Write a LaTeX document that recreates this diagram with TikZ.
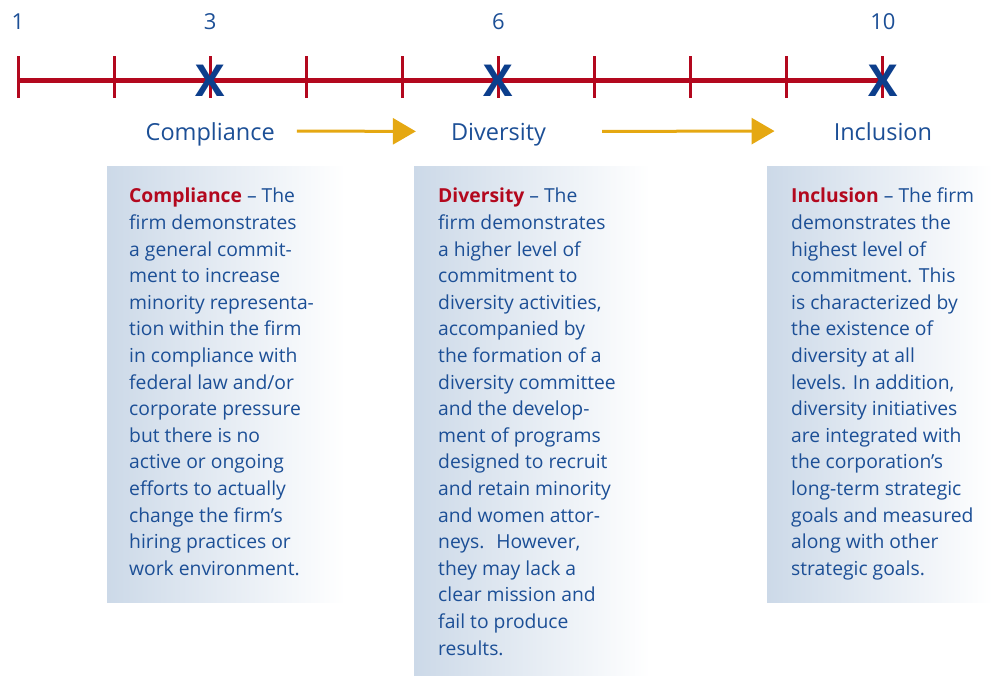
\documentclass[tikz,border=0pt]{standalone}
\usepackage{fontspec}
\setmainfont{Open Sans}
\usepackage{xcolor}
\usetikzlibrary{arrows.meta,positioning}
\definecolor{scale-red}{RGB}{179, 8, 30}
\definecolor{label-blue}{RGB}{28, 79, 150}
\definecolor{mark-blue}{RGB}{12, 62, 140}
\definecolor{arrow-gold}{RGB}{229, 168, 18}
\definecolor{box-blue}{RGB}{204, 217, 232}

\begin{document}
\begin{tikzpicture}[
    x=1pt, y=-1pt,
    scaleline/.style={draw=scale-red, line width=5pt},
    tick/.style={draw=scale-red, line width=3pt},
    num/.style={anchor=base, inner sep=0pt, text=label-blue, font=\fontsize{22}{22}\selectfont},
    xmark/.style={anchor=south, inner sep=0pt, text=mark-blue, font=\fontsize{44}{44}\selectfont\bfseries},
    stage/.style={anchor=base, inner sep=0pt, text depth=0pt, text=label-blue, font=\fontsize{23.5}{24}\selectfont},
    flow/.style={draw=arrow-gold, line width=3pt, -{Triangle[length=23pt,width=26pt]}},
    descbox/.style={anchor=north west, inner sep=0pt, left color=box-blue, right color=white},
    desc/.style={anchor=north west, inner sep=0pt, align=left, text=label-blue, font=\fontsize{19.3}{26.6}\selectfont}
]
\useasboundingbox (0,0) rectangle (992,675);

\foreach \i in {1,...,10}
    \coordinate (t\i) at ({18+(\i-1)*96.1},80);
\draw[scaleline] (t1) -- (t10);
\foreach \i in {1,...,10}
    \draw[tick] (t\i) ++(0,-24) -- ++(0,42);

\node[num] (n1) at ([yshift=51pt]t1) {1};
\node[num] (n3) at ([yshift=51pt]t3) {3};
\node[num] (n6) at ([yshift=51pt]t6) {6};
\node[num] (n10) at ([yshift=51pt]t10) {10};

\node[xmark] (x3) at ([yshift=-17pt]t3) {X};
\node[xmark] (x6) at ([yshift=-17pt]t6) {X};
\node[xmark] (x10) at ([yshift=-17pt]t10) {X};

\node[stage] (comp) at ([yshift=-60pt]t3) {Compliance};
\node[stage] (div) at ([yshift=-60pt]t6) {Diversity};
\node[stage] (incl) at ([yshift=-60pt]t10) {Inclusion};

\draw[flow] ([xshift=22pt]comp.east) -- ([xshift=-35pt]div.west);
\draw[flow] ([xshift=56pt]div.east) -- ([xshift=-59pt]incl.west);

\node[descbox, minimum width=238pt, minimum height=436pt] (compbox) at (107,166) {};
\node[descbox, minimum width=236pt, minimum height=509pt] (divbox) at (414,166) {};
\node[descbox, minimum width=225pt, minimum height=436pt] (inclbox) at (767,166) {};

\node[desc] (comptext) at ([xshift=22pt,yshift=-22pt]compbox.north west) {%
    \textcolor{scale-red}{\textbf{Compliance}} -- The\\
    firm demonstrates\\
    a general commit-\\
    ment to increase\\
    minority representa-\\
    tion within the firm\\
    in compliance with\\
    federal law and/or\\
    corporate pressure\\
    but there is no\\
    active or ongoing\\
    efforts to actually\\
    change the firm’s\\
    hiring practices or\\
    work environment.};
\node[desc] (divtext) at ([xshift=24pt,yshift=-22pt]divbox.north west) {%
    \textcolor{scale-red}{\textbf{Diversity}} -- The\\
    firm demonstrates\\
    a higher level of\\
    commitment to\\
    diversity activities,\\
    accompanied by\\
    the formation of a\\
    diversity committee\\
    and the develop-\\
    ment of programs\\
    designed to recruit\\
    and retain minority\\
    and women attor-\\
    neys.~ However,\\
    they may lack a\\
    clear mission and\\
    fail to produce\\
    results.};
\node[desc] (incltext) at ([xshift=24pt,yshift=-22pt]inclbox.north west) {%
    \textcolor{scale-red}{\textbf{Inclusion}} -- The firm\\
    demonstrates the\\
    highest level of\\
    commitment. This\\
    is characterized by\\
    the existence of\\
    diversity at all\\
    levels. In addition,\\
    diversity initiatives\\
    are integrated with\\
    the corporation’s\\
    long-term strategic\\
    goals and measured\\
    along with other\\
    strategic goals.};
\end{tikzpicture}
\end{document}
